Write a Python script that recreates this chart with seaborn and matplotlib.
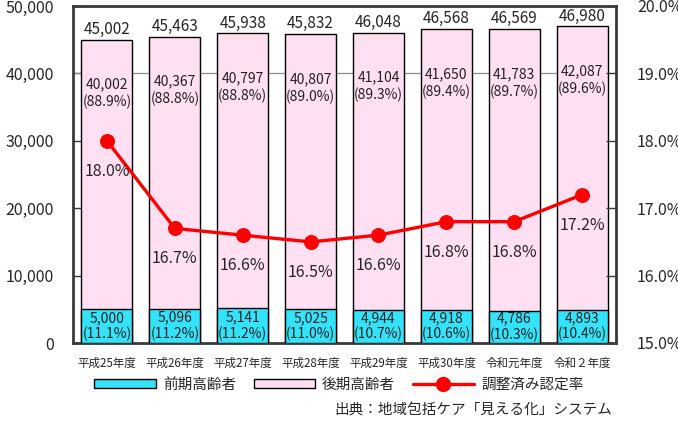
import numpy as np
import pandas as pd
import seaborn as sns
import matplotlib.pyplot as plt
from matplotlib.patches import Patch
from matplotlib.lines import Line2D
from matplotlib.ticker import FuncFormatter, FixedLocator

# data
years = ['平成25年度', '平成26年度', '平成27年度', '平成28年度',
         '平成29年度', '平成30年度', '令和元年度', '令和２年度']
early = [5000, 5096, 5141, 5025, 4944, 4918, 4786, 4893]
early_pct = [11.1, 11.2, 11.2, 11.0, 10.7, 10.6, 10.3, 10.4]
late = [40002, 40367, 40797, 40807, 41104, 41650, 41783, 42087]
late_pct = [88.9, 88.8, 88.8, 89.0, 89.3, 89.4, 89.7, 89.6]
total = [45002, 45463, 45938, 45832, 46048, 46568, 46569, 46980]
rate = [18.0, 16.7, 16.6, 16.5, 16.6, 16.8, 16.8, 17.2]

CYAN = '#33E3FA'
PINK = '#FFE0F3'
RED = '#FF0000'
FRAME = '#3a3a3a'

sns.set_style('white')
plt.rcParams['font.family'] = ['Noto Sans CJK JP', 'DejaVu Sans']

df = pd.DataFrame({'year': years, 'early': early, 'late': late, 'total': total, 'rate': rate})

fig = plt.figure(figsize=(6.78, 4.22), dpi=100)
ax = fig.add_axes([73 / 678, 1 - 343 / 422, 543 / 678, 337 / 422])

# stacked bars: total (pink) behind, early (cyan) in front
sns.barplot(data=df, x='year', y='total', color=PINK, width=0.75, saturation=1,
            edgecolor='black', linewidth=1, ax=ax, zorder=2)
sns.barplot(data=df, x='year', y='early', color=CYAN, width=0.75, saturation=1,
            edgecolor='black', linewidth=1, ax=ax, zorder=3)

ax.axhline(40000, color='#8c8c8c', lw=0.9, zorder=1)
ax.set_xlim(-0.5, 7.5)
ax.set_ylim(0, 50000)
ax.set_yticks(np.arange(0, 50001, 10000))
ax.yaxis.set_major_formatter(FuncFormatter(lambda v, p: f'{int(v):,}'))
ax.tick_params(axis='y', direction='in', length=7, width=1, color=FRAME, labelsize=11.5, pad=14)
ax.tick_params(axis='x', length=0, labelsize=8.3, pad=10)
ax.xaxis.set_minor_locator(FixedLocator(np.arange(0.5, 7.5, 1)))
ax.tick_params(axis='x', which='minor', direction='in', length=4, color=FRAME)
ax.set_xlabel(None)
ax.set_ylabel(None)
for s in ax.spines.values():
    s.set_color(FRAME)
    s.set_linewidth(2)

for i in range(len(years)):
    ax.text(i, total[i] + 250, f'{total[i]:,}', ha='center', va='bottom', fontsize=11, zorder=5)
    ax.text(i, total[i] - 8000, f'{late[i]:,}\n({late_pct[i]:.1f}%)', ha='center', va='center',
            fontsize=10, linespacing=1.3, color='#222222', zorder=5)
    ax.text(i, early[i] / 2, f'{early[i]:,}\n({early_pct[i]:.1f}%)', ha='center', va='center',
            fontsize=10, linespacing=1.15, color='#222222', zorder=5)

# certification rate on the right axis
ax2 = ax.twinx()
sns.lineplot(x=np.arange(len(years)), y=rate, color=RED, lw=2.4, marker='o', markersize=10,
             markeredgecolor=RED, ax=ax2, zorder=6)
ax2.set_ylim(15, 20)
ax2.set_yticks(np.arange(15, 20.01, 1))
ax2.yaxis.set_major_formatter(FuncFormatter(lambda v, p: f'{v:.1f}%'))
ax2.tick_params(axis='y', direction='in', length=7, width=1, color=FRAME, labelsize=11.5, pad=15)
for s in ax2.spines.values():
    s.set_visible(False)
for i, r in enumerate(rate):
    ax2.text(i, r - 0.45, f'{r:.1f}%', ha='center', va='center', fontsize=11.5, zorder=7)

handles = [Patch(facecolor=CYAN, edgecolor='black', lw=1),
           Patch(facecolor=PINK, edgecolor='black', lw=1),
           Line2D([0], [0], color=RED, lw=2.4, marker='o', markersize=10)]
fig.legend(handles, ['前期高齢者', '後期高齢者', '調整済み認定率'], loc='center',
           bbox_to_anchor=(0.5, 1 - 385 / 422), ncol=3, frameon=False, fontsize=10.5,
           handlelength=4.2, handleheight=0.55, columnspacing=1.2, handletextpad=0.5)
fig.text(612 / 678, 1 - 410 / 422, '出典：地域包括ケア「見える化」システム', ha='right', va='center',
         fontsize=10.5)

fig.savefig('out.png', dpi=100)
